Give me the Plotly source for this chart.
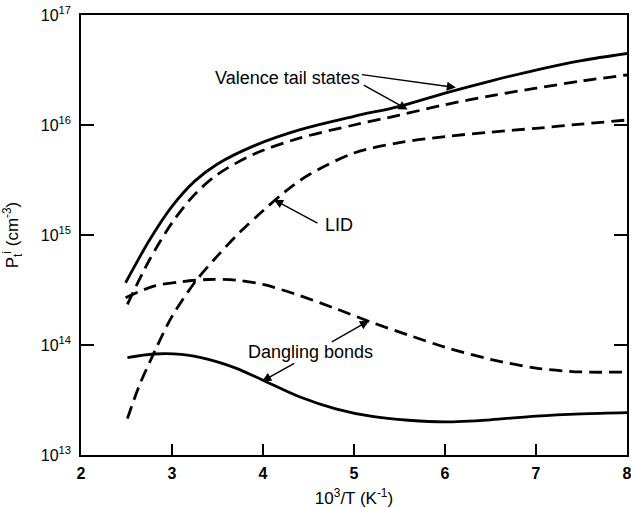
import plotly.graph_objects as go

# ---- data (x = 10^3/T in K^-1, y = P_t^i in cm^-3) ----
vt_solid_x = [2.49, 2.75, 3.0, 3.25, 3.5, 3.9, 4.4, 5.0, 5.5, 6.0, 6.5, 7.0, 7.5, 8.0]
vt_solid_y = [3.68e14, 8.91e14, 1.82e15, 3.09e15, 4.42e15, 6.46e15, 9.02e15, 1.2e16, 1.48e16,
              1.95e16, 2.51e16, 3.16e16, 3.85e16, 4.47e16]

vt_dash_x = [2.51, 2.75, 3.0, 3.25, 3.5, 3.9, 4.4, 5.0, 5.5, 6.0, 6.5, 7.0, 7.5, 8.0]
vt_dash_y = [2.34e14, 5.89e14, 1.29e15, 2.34e15, 3.55e15, 5.43e15, 7.59e15, 1.0e16, 1.23e16,
             1.53e16, 1.84e16, 2.16e16, 2.51e16, 2.85e16]

lid_x = [2.51, 2.64, 2.82, 3.0, 3.26, 3.5, 3.75, 4.0, 4.25, 4.5, 5.0, 5.5, 6.0, 6.5, 7.0, 7.5, 8.0]
lid_y = [2.14e13, 4.27e13, 9.12e13, 1.82e14, 3.8e14, 6.46e14, 1.07e15, 1.66e15, 2.51e15, 3.51e15,
         5.56e15, 6.92e15, 7.85e15, 8.61e15, 9.33e15, 1.02e16, 1.11e16]

db_dash_x = [2.49, 2.8, 3.1, 3.4, 3.7, 4.0, 4.4, 4.8, 5.2, 5.6, 6.0, 6.5, 7.0, 7.5, 8.0]
db_dash_y = [2.69e14, 3.43e14, 3.76e14, 3.94e14, 3.89e14, 3.55e14, 2.82e14, 2.14e14, 1.6e14,
             1.23e14, 9.55e13, 7.41e13, 6.17e13, 5.69e13, 5.69e13]

db_solid_x = [2.51, 2.8, 3.1, 3.4, 3.7, 4.0, 4.4, 4.8, 5.2, 5.6, 6.0, 6.5, 7.0, 7.5, 8.0]
db_solid_y = [7.69e13, 8.28e13, 8.22e13, 7.41e13, 6.17e13, 4.79e13, 3.39e13, 2.63e13, 2.24e13,
              2.07e13, 2.0e13, 2.09e13, 2.26e13, 2.37e13, 2.43e13]

x_ticks = [2, 3, 4, 5, 6, 7, 8]
x_tick_text = ["<b>2</b>", "<b>3</b>", "<b>4</b>", "<b>5</b>", "<b>6</b>", "<b>7</b>", "<b>8</b>"]
y_ticks = [1e13, 1e14, 1e15, 1e16, 1e17]
y_tick_text = ["10<sup>13</sup>", "10<sup>14</sup>", "10<sup>15</sup>", "10<sup>16</sup>", "10<sup>17</sup>"]

FONT = "Liberation Sans, Arial, sans-serif"
DASH = "13px,7px"

fig = go.Figure()

def add(x, y, dash):
    fig.add_trace(go.Scatter(
        x=x, y=y, mode="lines",
        line=dict(color="black", width=2.8, dash=dash, shape="spline", smoothing=0.9),
        showlegend=False, hoverinfo="skip"))

add(vt_solid_x, vt_solid_y, "solid")
add(vt_dash_x, vt_dash_y, DASH)
add(lid_x, lid_y, DASH)
add(db_dash_x, db_dash_y, DASH)
add(db_solid_x, db_solid_y, "solid")

ann = []
def label(text, x, ly):
    ann.append(dict(x=x, y=ly, xref="x", yref="y", text=text, showarrow=False,
                    font=dict(family=FONT, size=18, color="black")))

def arrow(hx, hy, tx, ty):
    ann.append(dict(x=hx, y=hy, xref="x", yref="y", ax=tx, ay=ty, axref="x", ayref="y",
                    text="", showarrow=True, arrowhead=2, arrowsize=1.3, arrowwidth=1.4,
                    arrowcolor="black"))

label("Valence tail states", 4.27, 16.43)
arrow(6.12, 16.34, 5.07, 16.46)
arrow(5.59, 16.14, 5.09, 16.37)

label("LID", 4.84, 15.09)
arrow(4.12, 15.32, 4.615, 15.10)

label("Dangling bonds", 4.52, 13.94)
arrow(5.165, 14.22, 4.74, 14.02)
arrow(3.99, 13.67, 4.36, 13.84)

fig.update_layout(
    width=631, height=508,
    margin=dict(l=81, r=4, t=15, b=53),
    paper_bgcolor="white", plot_bgcolor="white",
    font=dict(family=FONT, size=15, color="black"),
    annotations=ann,
    xaxis=dict(range=[2, 8], tickvals=x_ticks, ticktext=x_tick_text, ticks="inside", ticklen=11,
               tickwidth=1.5, tickcolor="black", showline=True, linecolor="black", linewidth=1.6,
               mirror=True, showgrid=False, zeroline=False, automargin=False,
               ticklabelstandoff=3, ticklabeloverflow="allow",
               tickfont=dict(family=FONT, size=16, color="black"),
               title=dict(text="10<sup>3</sup>/T (K<sup>-1</sup>)", standoff=23,
                          font=dict(family=FONT, size=17))),
    yaxis=dict(type="log", range=[13, 17], tickvals=y_ticks, ticktext=y_tick_text,
               ticks="inside", ticklen=13, tickwidth=1.5, tickcolor="black",
               showline=True, linecolor="black", linewidth=1.6, mirror="ticks",
               showgrid=False, zeroline=False, automargin=False, ticklabelstandoff=5,
               ticklabeloverflow="allow",
               tickfont=dict(family=FONT, size=16, color="black"),
               title=dict(text="P<sub>t</sub><sup>i</sup> (cm<sup>-3</sup>)", standoff=20,
                          font=dict(family=FONT, size=17))),
)

# remove the browser's default 8px page margin so the 631x508 figure fills the window
fig.write_html("out.html", config={"displayModeBar": False},
               post_script="document.body.style.margin='0';")
